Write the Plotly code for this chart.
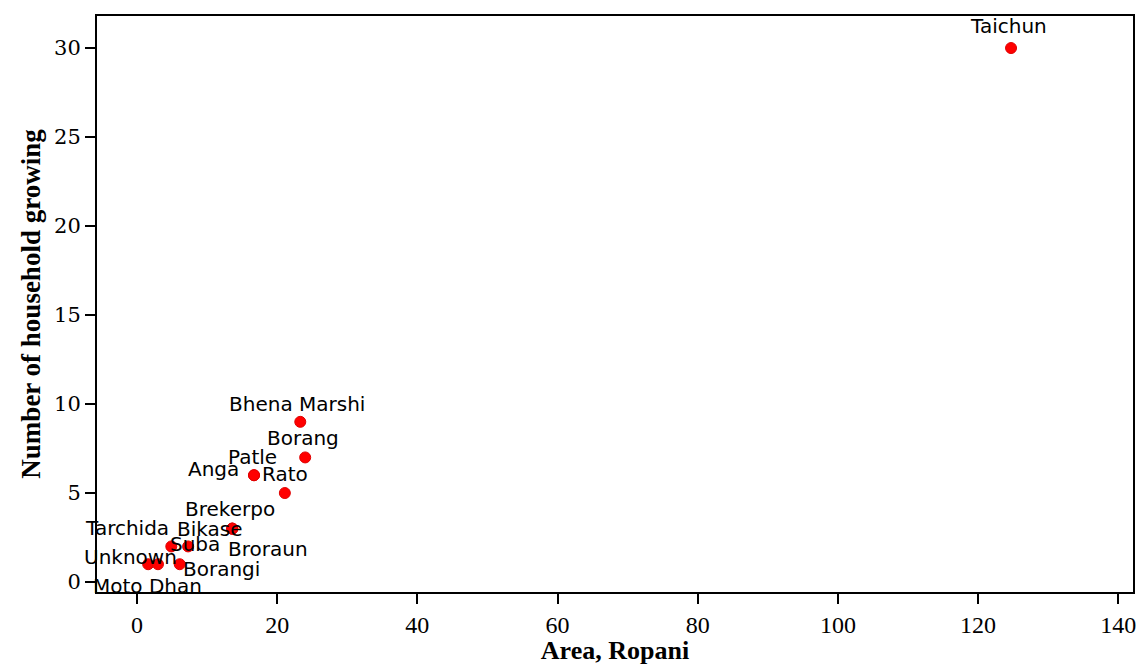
import plotly.graph_objects as go

# ---- data ----
varieties = ["Taichun", "Bhena Marshi", "Borang", "Patle", "Anga", "Rato",
             "Brekerpo", "Bikase", "Broraun", "Tarchida", "Suba",
             "Unknown", "Moto Dhan", "Borangi"]
area_ropani = [124.7, 23.3, 24.0, 16.7, 16.7, 21.1,
               13.6, 13.6, 13.6, 4.9, 7.3,
               1.6, 3.0, 6.1]
households = [30, 9, 7, 6, 6, 5,
              3, 3, 3, 2, 2,
              1, 1, 1]

x_ticks = [0, 20, 40, 60, 80, 100, 120, 140]
y_ticks = [0, 5, 10, 15, 20, 25, 30]

# label placement (pixel offsets from the marker), style only
label_offsets = {
    "Taichun": (-3, 22), "Bhena Marshi": (-3, 18), "Borang": (-2, 19),
    "Patle": (-2, 18), "Anga": (-41, 6), "Rato": (0, 19),
    "Brekerpo": (-2, 20), "Bikase": (-22, 0), "Broraun": (36, -20),
    "Tarchida": (-44, 18), "Suba": (7, 2), "Unknown": (-18, 7),
    "Moto Dhan": (-10, -22), "Borangi": (42, -5),
}

fig = go.Figure()
fig.add_trace(go.Scatter(
    x=area_ropani, y=households, mode="markers",
    marker=dict(color="#ff0000", size=11, line=dict(color="#e00000", width=1)),
    hovertext=varieties, showlegend=False,
))

for name, xv, yv in zip(varieties, area_ropani, households):
    dx, dy = label_offsets.get(name, (0, 18))
    fig.add_annotation(x=xv, y=yv, text=name, showarrow=False,
                       xshift=dx, yshift=dy,
                       font=dict(family="DejaVu Sans", size=20, color="black"))

axis_common = dict(showline=True, linecolor="black", linewidth=2, mirror=True,
                   ticks="outside", ticklen=10, tickwidth=2, tickcolor="black",
                   showgrid=False, zeroline=False, automargin=False)

fig.update_layout(
    width=1139, height=665,
    margin=dict(l=97, r=6, t=16, b=73),
    paper_bgcolor="white", plot_bgcolor="white",
    xaxis=dict(range=[-5.7, 142.1], tickvals=x_ticks, ticklabeloverflow="allow",
               tickfont=dict(family="Liberation Serif", size=24, color="black"),
               title=dict(text="<b>Area, Ropani</b>", standoff=11,
                          font=dict(family="Liberation Serif", size=26, color="black")),
               **axis_common),
    yaxis=dict(range=[-0.56, 31.8], tickvals=y_ticks,
               tickfont=dict(family="DejaVu Serif", size=21, color="black"),
               title=dict(text="<b>Number of household growing</b>", standoff=6,
                          font=dict(family="Liberation Serif", size=27, color="black")),
               **axis_common),
)

fig.write_html(
    "out.html",
    config={"displayModeBar": False},
    post_script="document.body.style.margin='0';document.body.style.overflow='hidden';",
)
